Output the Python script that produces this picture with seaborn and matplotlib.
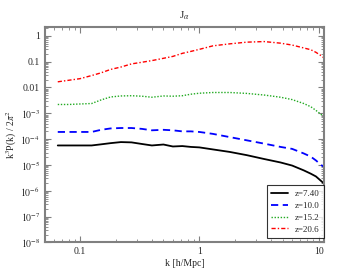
import matplotlib
matplotlib.use("Agg")
import matplotlib.pyplot as plt
import matplotlib.ticker as mticker
import seaborn as sns
import numpy as np
import pandas as pd

sns.set_style("ticks")
plt.rcParams['font.family'] = ['Liberation Serif', 'DejaVu Serif']
plt.rcParams['mathtext.fontset'] = 'stix'

k = [0.065, 0.08, 0.1, 0.125, 0.15, 0.18, 0.22, 0.27, 0.33, 0.4, 0.5, 0.6, 0.72, 0.85,
     1.0, 1.3, 1.8, 2.5, 3.5, 4.8, 6.0, 7.5, 8.6, 9.5, 10.5, 11.1]

z740 = [5.7e-5, 5.7e-5, 5.7e-5, 5.7e-5, 6.3e-5, 7.0e-5, 7.7e-5, 7.5e-5, 6.5e-5, 5.7e-5,
        6.2e-5, 5.2e-5, 5.4e-5, 5.0e-5, 4.8e-5, 4.0e-5, 3.2e-5, 2.4e-5, 1.7e-5, 1.25e-5,
        9.5e-6, 6.2e-6, 4.6e-6, 3.6e-6, 2.4e-6, 1.9e-6]
z100 = [1.9e-4, 1.9e-4, 1.9e-4, 1.9e-4, 2.3e-4, 2.6e-4, 2.7e-4, 2.7e-4, 2.5e-4, 2.2e-4,
        2.3e-4, 2.2e-4, 2.0e-4, 2.0e-4, 1.9e-4, 1.6e-4, 1.2e-4, 9e-5, 6.7e-5, 5e-5,
        4.2e-5, 2.8e-5, 2.1e-5, 1.5e-5, 1.0e-5, 8.5e-6]
z152 = [0.0022, 0.0022, 0.0023, 0.0024, 0.0033, 0.0043, 0.0047, 0.0048, 0.0046, 0.0042,
        0.0047, 0.0046, 0.0048, 0.0055, 0.006, 0.0064, 0.0064, 0.0059, 0.0051, 0.0042,
        0.0034, 0.0024, 0.0018, 0.0013, 0.0009, 0.0008]
z206 = [0.0166, 0.019, 0.022, 0.029, 0.037, 0.05, 0.062, 0.082, 0.095, 0.11,
        0.135, 0.16, 0.21, 0.25, 0.30, 0.41, 0.49, 0.57, 0.60, 0.52,
        0.44, 0.34, 0.29, 0.23, 0.17, 0.14]

labels = ["z=7.40", "z=10.0", "z=15.2", "z=20.6"]
series = [z740, z100, z152, z206]
colors = ["black", "blue", "#22aa22", "red"]
styles = ["-", (0, (4, 2.5)), (0, (1, 1.2)), (0, (3, 1.5, 1, 1.5))]
widths = [1.3, 1.3, 1.0, 1.0]

fig = plt.figure(figsize=(3.6, 2.7), dpi=100)
ax = fig.add_axes([0.125, 0.102, 0.775, 0.798])

for lab, vals, c, ls, lw in zip(labels, series, colors, styles, widths):
    df = pd.DataFrame({"k": k, "v": vals})
    sns.lineplot(data=df, x="k", y="v", ax=ax, color=c, linestyle=ls, lw=lw, label=lab)

ax.set_xscale("log")
ax.set_yscale("log")
ax.set_xlim(0.0508, 11.1)
ax.set_ylim(1e-8, 2.2)

def yfmt(v, pos):
    e = int(round(np.log10(v)))
    if e == 0:
        return "1"
    if e == -1:
        return "0.1"
    if e == -2:
        return "0.01"
    return r"$10^{%d}$" % e

def xfmt(v, pos):
    e = int(round(np.log10(v)))
    return {-1: "0.1", 0: "1", 1: "10"}.get(e, "")

ax.yaxis.set_major_locator(mticker.LogLocator(base=10, numticks=20))
ax.yaxis.set_minor_locator(mticker.LogLocator(base=10, subs=np.arange(2, 10), numticks=20))
ax.yaxis.set_major_formatter(mticker.FuncFormatter(yfmt))
ax.yaxis.set_minor_formatter(mticker.NullFormatter())
ax.xaxis.set_major_locator(mticker.FixedLocator([0.1, 1, 10]))
ax.xaxis.set_major_formatter(mticker.FuncFormatter(xfmt))
ax.xaxis.set_minor_formatter(mticker.NullFormatter())

for s in ax.spines.values():
    s.set_color("#808080")
    s.set_linewidth(1.5)
ax.tick_params(which="both", direction="in", top=True, right=True, color="#808080",
               labelsize=7)
ax.tick_params(which="major", length=4, width=0.8)
ax.tick_params(which="minor", length=2, width=0.6)

ax.set_xlabel("k [h/Mpc]", fontsize=7, labelpad=2)
ax.set_ylabel(r"k$^3$P(k) / 2$\pi^2$", fontsize=7, labelpad=1)
ax.set_title(r"J$_\alpha$", fontsize=8, pad=6)

leg = ax.legend(loc="lower right", bbox_to_anchor=(1.0, 0.02), fontsize=6.5,
                frameon=True, fancybox=False, edgecolor="black", handlelength=1.8,
                handletextpad=0.8, borderpad=0.5, labelspacing=0.4, borderaxespad=0.0)
leg.get_frame().set_linewidth(0.8)

fig.savefig("out.png", dpi=100)
